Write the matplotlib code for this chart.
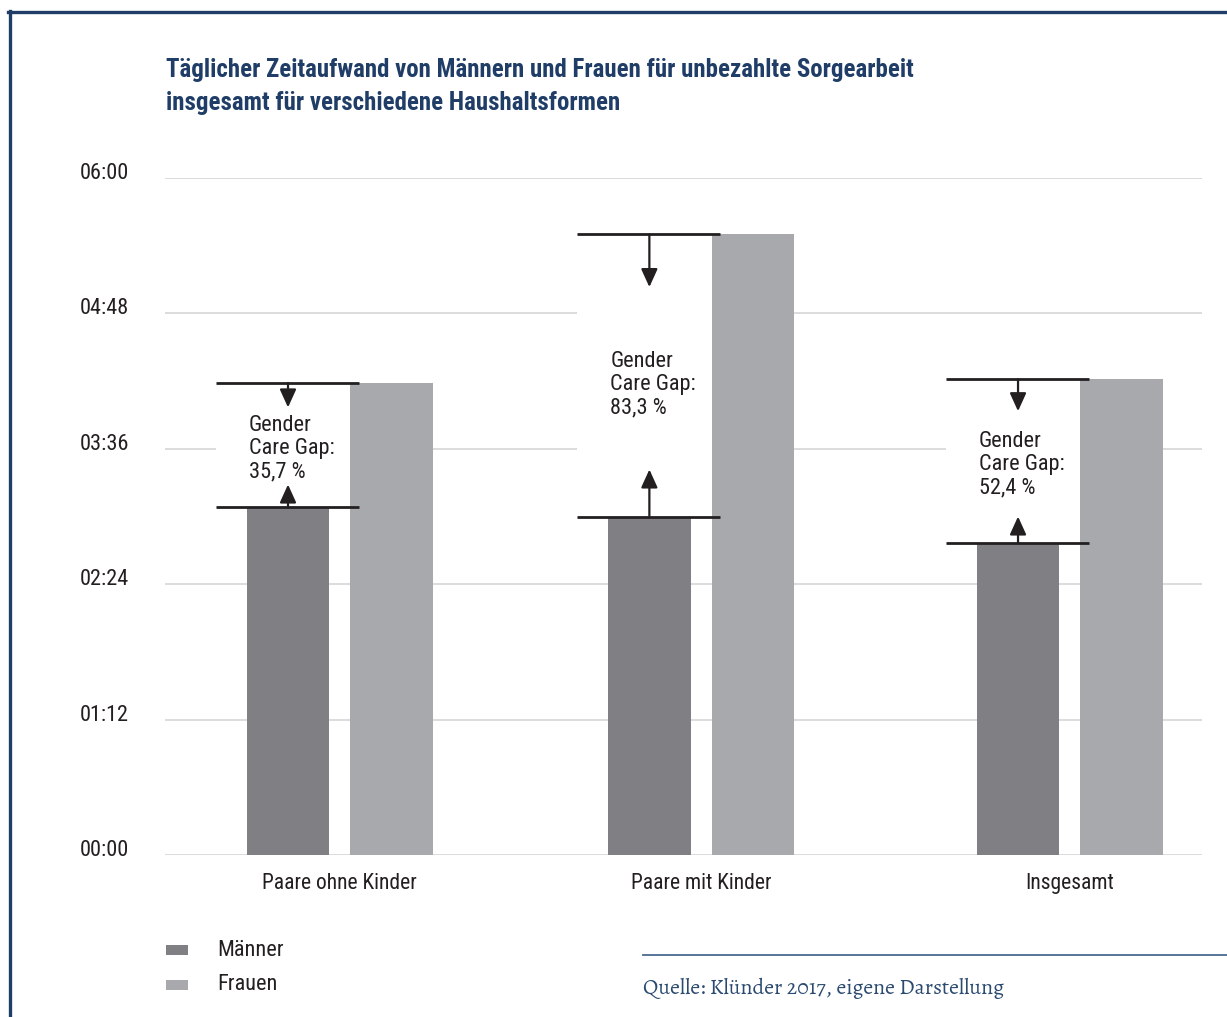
import matplotlib.pyplot as plt
import matplotlib.transforms as mtransforms
import numpy as np
from matplotlib.patches import Rectangle
from matplotlib.lines import Line2D

plt.rcParams['font.family'] = ['Roboto Condensed', 'DejaVu Sans']

# minutes per day
categories = ['Paare ohne Kinder', 'Paare mit Kinder', 'Insgesamt']
maenner = [185, 180, 166]
frauen = [251, 330, 253]
gap_labels = ['35,7 %', '83,3 %', '52,4 %']
yticks = [0, 72, 144, 216, 288, 360]
ytick_labels = ['00:00', '01:12', '02:24', '03:36', '04:48', '06:00']

navy = '#1f3d66'
c_m = '#808084'
c_f = '#a8a9ac'
dark = '#231f20'
grid_c = '#d9d9d9'

W, H = 1227, 1017
fig = plt.figure(figsize=(W / 100, H / 100), dpi=100)
ax = fig.add_axes([165 / W, 1 - 855 / H, (1202 - 165) / W, (855 - 178) / H])

x = np.array([0, 0.99, 2])
bw = 0.227
off = 0.142
ax.bar(x - off, maenner, bw, color=c_m, zorder=3)
ax.bar(x + off, frauen, bw, color=c_f, zorder=3)

ax.set_xlim(-0.479, 2.362)
ax.set_ylim(0, 360)
ax.set_yticks(yticks)
ax.set_yticklabels(ytick_labels, fontsize=16)
ax.set_xticks(x)
ax.set_xticklabels(categories, fontsize=15.5)
ax.tick_params(axis='x', length=0, pad=13, colors=dark)
ax.tick_params(axis='y', length=0, pad=85 * 0.72, colors=dark)
shift_up = mtransforms.ScaledTranslation(0, 7 / 100, fig.dpi_scale_trans)
for lab in ax.get_yticklabels():
    lab.set_horizontalalignment('left')
    lab.set_transform(lab.get_transform() + shift_up)
for s in ax.spines.values():
    s.set_visible(False)
for t in yticks:
    ax.axhline(t, color=grid_c, lw=1.3, zorder=1)

# gap markers: horizontal lines, arrows, white backing box, label
line_l, line_r = -0.34, 0.052
arrow_down = [13, 28, 17]
arrow_up = [12, 25, 14]
label_drop = [2, 5, 2]
astyle = dict(arrowstyle='-|>,head_length=1.1,head_width=0.5',
              color=dark, lw=1.6, shrinkA=0, shrinkB=0)
for i, xc in enumerate(x):
    m, f = maenner[i], frauen[i]
    ax.add_patch(Rectangle((xc + line_l, m), (off - bw / 2) - line_l, f - m,
                           facecolor='white', edgecolor='none', zorder=2))
    for yv in (m, f):
        ax.plot([xc + line_l, xc + line_r], [yv, yv], color=dark, lw=2, zorder=4,
                solid_capstyle='butt')
    ax.annotate('', xy=(xc - off, f - arrow_down[i]), xytext=(xc - off, f),
                arrowprops=astyle, zorder=4)
    ax.annotate('', xy=(xc - off, m + arrow_up[i]), xytext=(xc - off, m),
                arrowprops=astyle, zorder=4)
    ax.text(xc - off - bw / 2 + 0.006, (m + f) / 2 - label_drop[i],
            'Gender\nCare Gap:\n' + gap_labels[i], fontsize=16, color=dark,
            va='center', ha='left', linespacing=1.13, zorder=5)

# title
fig.text(166 / W, 1 - 70 / H,
         'Täglicher Zeitaufwand von Männern und Frauen für unbezahlte Sorgearbeit',
         fontsize=17.9, fontweight='bold', color=navy, va='center')
fig.text(166 / W, 1 - 103 / H, 'insgesamt für verschiedene Haushaltsformen',
         fontsize=17.9, fontweight='bold', color=navy, va='center')

# legend
for yc, col, lab in [(950, c_m, 'Männer'), (985, c_f, 'Frauen')]:
    fig.add_artist(Rectangle((166 / W, 1 - (yc + 5) / H), 22 / W, 10 / H,
                             facecolor=col, edgecolor='none', transform=fig.transFigure))
    fig.text(217 / W, 1 - yc / H, lab, fontsize=16, color=dark, va='center')

# source
fig.add_artist(Line2D([643 / W, 1], [1 - 955 / H, 1 - 955 / H], color='#4a6a90', lw=1.3,
                      transform=fig.transFigure))
fig.text(643 / W, 1 - 988 / H, 'Quelle: Klünder 2017, eigene Darstellung',
         fontsize=15.8, family=['Alegreya', 'DejaVu Serif'], color='#2b4a70', va='center')

# frame
fig.add_artist(Line2D([9.5 / W, 9.5 / W], [0, 1 - 11 / H], color=navy, lw=2.4,
                      transform=fig.transFigure))
fig.add_artist(Line2D([8 / W, 1], [1 - 11.5 / H, 1 - 11.5 / H], color=navy, lw=2.4,
                      transform=fig.transFigure))

fig.savefig('out.png', dpi=100)
